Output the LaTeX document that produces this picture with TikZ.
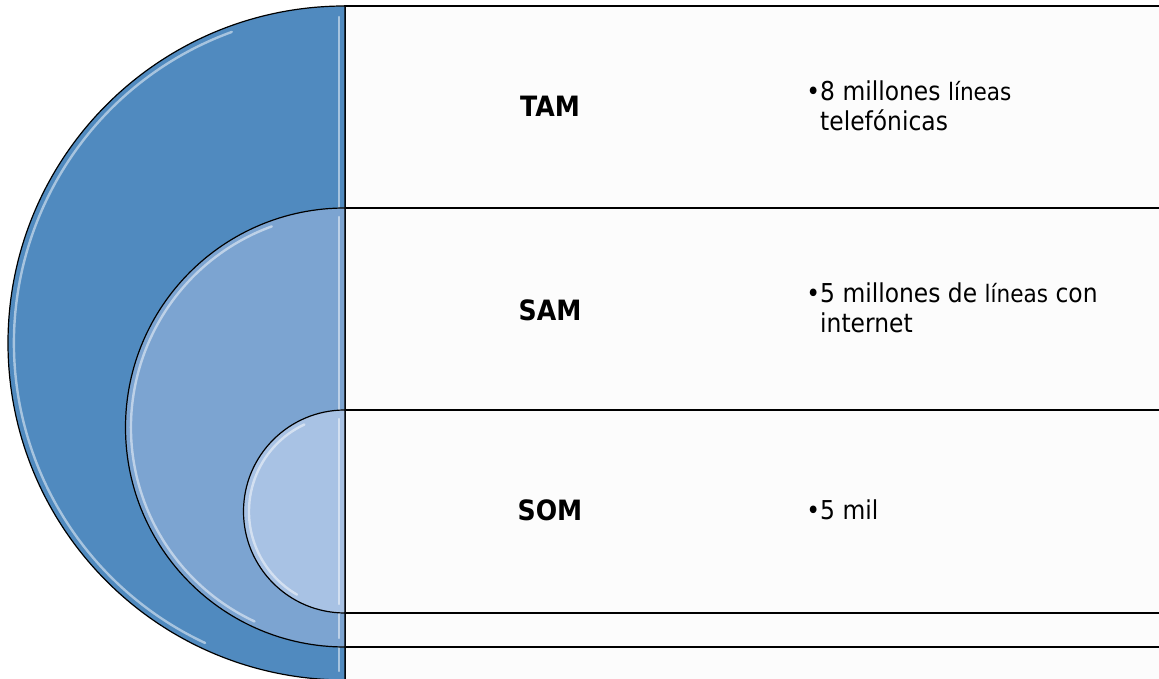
\documentclass[tikz,border=0pt]{standalone}
\usepackage{fontspec}
\setmainfont{DejaVu Sans}[FakeStretch=0.9]
\definecolor{tamblue}{RGB}{80,138,191}
\definecolor{samblue}{RGB}{124,164,209}
\definecolor{somblue}{RGB}{168,194,228}
\definecolor{panelgray}{RGB}{252,252,252}
\newcommand{\lsz}{\fontsize{24}{30}\selectfont}

\begin{document}
\begin{tikzpicture}[x=1pt,y=1pt,
	semi/.style={draw=black,line width=1.2pt},
	hilite/.style={draw=white,line width=2.4pt,opacity=0.5,line cap=round},
	panel/.style={draw=black,line width=1.3pt,fill=panelgray},
	lbl/.style={font=\bfseries\fontsize{28}{30}\selectfont,inner sep=0pt},
	bul/.style={font=\fontsize{26}{30}\selectfont,inner sep=0pt,anchor=base west}]

\useasboundingbox (0,0) rectangle (1159,679);
\clip (0,0) rectangle (1159,679);

% panels, back to front
\draw[panel] (345,-1) rectangle (1175,673);
\draw[panel] (345,32) rectangle (1175,471);
\draw[panel] (345,66) rectangle (1175,269);

% half discs
\draw[semi,fill=tamblue] (345,673) arc[start angle=90,end angle=270,radius=337pt] -- cycle;
\draw[hilite] (345,336) ++(110:331pt) arc[start angle=110,end angle=245,radius=331pt];
\draw[hilite] (339,662) -- (339,8);

\draw[semi,fill=samblue] (345,471) arc[start angle=90,end angle=270,radius=219.5pt] -- cycle;
\draw[hilite] (345,251.5) ++(110:214pt) arc[start angle=110,end angle=245,radius=214pt];
\draw[hilite] (339,462) -- (339,41);

\draw[semi,fill=somblue] (345,269) arc[start angle=90,end angle=270,radius=101.5pt] -- cycle;
\draw[hilite] (345,167.5) ++(115:96pt) arc[start angle=115,end angle=240,radius=96pt];
\draw[hilite] (339,260) -- (339,75);

% labels
\node[lbl] (tam) at (550,573) {TAM};
\node[lbl] (sam) at (550,369) {SAM};
\node[lbl] (som) at (550,169) {SOM};

\node[bul] (tam-a) at (820,578) {\llap{•}8 millones {\lsz líneas}};
\node[bul] (tam-b) at (820,548) {telefónicas};
\node[bul] (sam-a) at (820,376) {\llap{•}5 millones de {\lsz líneas} con};
\node[bul] (sam-b) at (820,346) {internet};
\node[bul] (som-a) at (820,159) {\llap{•}5 mil};
\end{tikzpicture}
\end{document}
